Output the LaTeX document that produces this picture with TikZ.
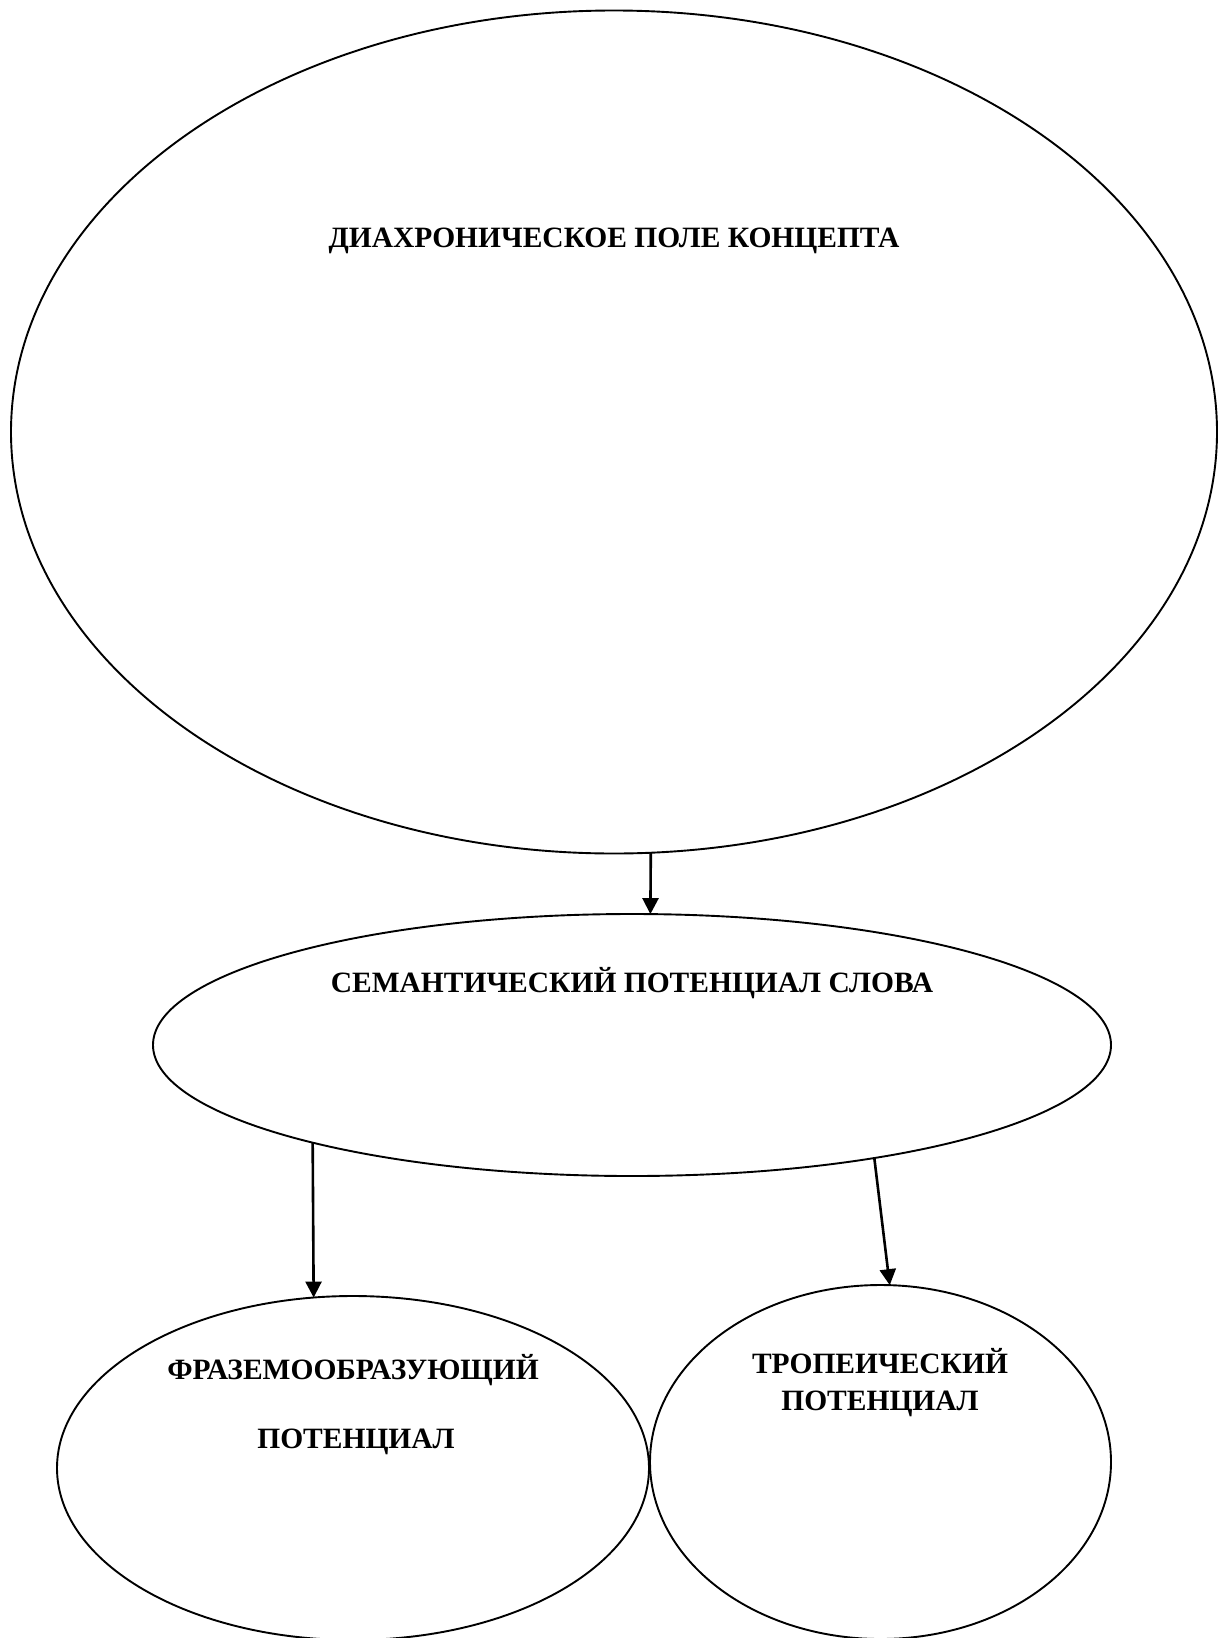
\documentclass[tikz,border=0pt]{standalone}
\usepackage{fontspec}
\setmainfont{Liberation Serif}
\usetikzlibrary{shapes.geometric,arrows.meta}
\begin{document}
\begin{tikzpicture}[x=1pt,y=-1pt,
  oval/.style={ellipse,draw,line width=1.9pt,inner sep=0pt,outer sep=0pt},
  lbl/.style={anchor=base,inner sep=0pt,font=\fontsize{29.5}{36}\selectfont\bfseries},
  arr/.style={line width=2.6pt,-{Triangle[length=16pt,width=16pt]}}]
\useasboundingbox (0,0) rectangle (1218,1638);
\fill[white] (0,0) rectangle (1218,1638);
\node[oval,minimum width=1206pt,minimum height=843pt] (big) at (614,432) {};
\node[oval,minimum width=958pt,minimum height=262pt] (mid) at (632,1045) {};
\node[oval,minimum width=592pt,minimum height=344pt] (bl) at (353,1468) {};
\node[oval,minimum width=461pt,minimum height=354pt] (br) at (880.5,1462) {};
\node[lbl] (t1) at (614,247) {ДИАХРОНИЧЕСКОЕ ПОЛЕ КОНЦЕПТА};
\node[lbl] (t2) at (632,992) {СЕМАНТИЧЕСКИЙ ПОТЕНЦИАЛ СЛОВА};
\node[lbl] (t3) at (353,1379) {ФРАЗЕМООБРАЗУЮЩИЙ};
\node[lbl] (t4) at (356,1448) {ПОТЕНЦИАЛ};
\node[lbl] (t5) at (880,1373) {ТРОПЕИЧЕСКИЙ};
\node[lbl] (t6) at (880,1410) {ПОТЕНЦИАЛ};
\draw[arr] (big.-85.25) -- (mid.82.7);
\draw[arr] (mid.197.3) -- (bl.103.6);
\draw[arr] (mid.-25.3) -- (br.87.3);
\end{tikzpicture}
\end{document}
